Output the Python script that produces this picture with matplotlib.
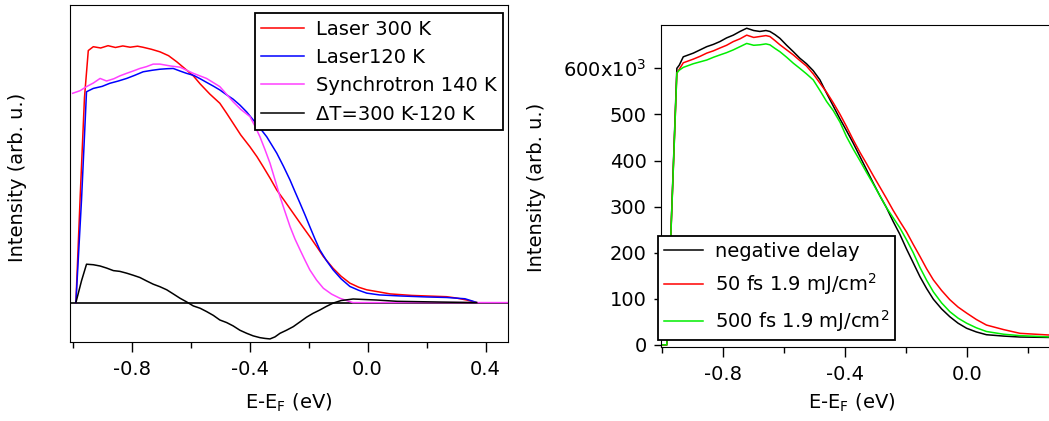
import matplotlib
matplotlib.use('Agg')
import matplotlib.pyplot as plt
from matplotlib.ticker import FixedLocator, FixedFormatter, FormatStrFormatter

plt.rcParams['font.family'] = ['DejaVu Sans']
plt.rcParams['font.size'] = 14
plt.rcParams['axes.unicode_minus'] = False
plt.rcParams['mathtext.fontset'] = 'dejavusans'

# ---------------- left panel: temperature comparison ----------------
red_x = [-0.989, -0.975, -0.960, -0.947, -0.930, -0.905, -0.880, -0.855, -0.830, -0.805,
         -0.780, -0.762, -0.733, -0.704, -0.675, -0.647, -0.614, -0.590, -0.568, -0.535,
         -0.501, -0.478, -0.456, -0.430, -0.399, -0.375, -0.354, -0.330, -0.308, -0.280,
         -0.252, -0.224, -0.196, -0.172, -0.150, -0.117, -0.090, -0.060, -0.030, -0.003,
         0.042, 0.076, 0.150, 0.268, 0.300, 0.336, 0.370]
red_y = [0.0, 0.40, 0.80, 0.985, 1.000, 0.995, 1.004, 0.997, 1.003, 0.998,
         1.002, 0.998, 0.990, 0.980, 0.965, 0.941, 0.909, 0.885, 0.855, 0.815,
         0.779, 0.740, 0.701, 0.655, 0.609, 0.570, 0.531, 0.485, 0.440, 0.395,
         0.349, 0.303, 0.258, 0.218, 0.180, 0.134, 0.103, 0.076, 0.060, 0.050,
         0.041, 0.034, 0.028, 0.023, 0.018, 0.010, 0.0]

blue_x = [-0.989, -0.970, -0.953, -0.930, -0.900, -0.874, -0.845, -0.817, -0.790, -0.761,
          -0.730, -0.704, -0.680, -0.659, -0.636, -0.614, -0.590, -0.568, -0.545, -0.523,
          -0.501, -0.478, -0.456, -0.433, -0.410, -0.388, -0.365, -0.342, -0.325, -0.308,
          -0.285, -0.263, -0.246, -0.229, -0.212, -0.196, -0.179, -0.162, -0.140, -0.117,
          -0.090, -0.060, -0.030, -0.003, 0.040, 0.109, 0.200, 0.268, 0.330, 0.358,
          0.370]
blue_y = [0.0, 0.40, 0.824, 0.837, 0.845, 0.857, 0.866, 0.876, 0.888, 0.902,
          0.908, 0.912, 0.914, 0.915, 0.905, 0.896, 0.888, 0.875, 0.860, 0.846,
          0.831, 0.812, 0.795, 0.772, 0.745, 0.714, 0.682, 0.648, 0.616, 0.584,
          0.532, 0.479, 0.433, 0.388, 0.342, 0.297, 0.250, 0.206, 0.165, 0.128,
          0.093, 0.063, 0.048, 0.037, 0.030, 0.026, 0.022, 0.020, 0.015, 0.005,
          0.0]

syn_x = [-1.000, -0.975, -0.953, -0.930, -0.907, -0.885, -0.860, -0.840, -0.817, -0.795,
         -0.772, -0.750, -0.727, -0.704, -0.670, -0.636, -0.591, -0.546, -0.501, -0.456,
         -0.430, -0.399, -0.382, -0.365, -0.348, -0.331, -0.314, -0.297, -0.280, -0.263,
         -0.246, -0.229, -0.212, -0.196, -0.173, -0.150, -0.122, -0.094, -0.071, -0.050,
         0.476]
syn_y = [0.818, 0.828, 0.844, 0.858, 0.876, 0.866, 0.875, 0.886, 0.896, 0.905,
         0.915, 0.922, 0.932, 0.932, 0.925, 0.920, 0.896, 0.876, 0.844, 0.785,
         0.755, 0.727, 0.690, 0.648, 0.598, 0.545, 0.480, 0.414, 0.355, 0.297,
         0.248, 0.206, 0.165, 0.128, 0.088, 0.056, 0.033, 0.017, 0.008, 0.0,
         0.0]

diff_x = [-0.989, -0.970, -0.953, -0.930, -0.907, -0.885, -0.862, -0.840, -0.817, -0.795,
          -0.772, -0.750, -0.727, -0.704, -0.681, -0.659, -0.636, -0.614, -0.591, -0.568,
          -0.546, -0.523, -0.501, -0.478, -0.456, -0.433, -0.410, -0.388, -0.365, -0.348,
          -0.331, -0.314, -0.297, -0.275, -0.252, -0.230, -0.207, -0.185, -0.162, -0.140,
          -0.117, -0.090, -0.049, 0.031, 0.100, 0.250, 0.370]
diff_y = [0.0, 0.085, 0.150, 0.148, 0.143, 0.135, 0.125, 0.122, 0.115, 0.107,
          0.098, 0.085, 0.072, 0.062, 0.050, 0.034, 0.017, 0.003, -0.013, -0.022,
          -0.035, -0.050, -0.068, -0.078, -0.091, -0.108, -0.120, -0.130, -0.137, -0.140,
          -0.142, -0.134, -0.120, -0.108, -0.094, -0.076, -0.057, -0.042, -0.029, -0.015,
          -0.002, 0.008, 0.014, 0.010, 0.005, 0.002, 0.0]

# ---------------- right panel: pump-probe delay (x10^3) ----------------
delay_x = [-1.005, -0.997, -0.985, -0.952, -0.944, -0.931, -0.898, -0.876, -0.854, -0.832,
           -0.811, -0.789, -0.767, -0.745, -0.723, -0.700, -0.680, -0.660, -0.647, -0.630,
           -0.614, -0.592, -0.570, -0.549, -0.527, -0.505, -0.483, -0.461, -0.439, -0.417,
           -0.396, -0.374, -0.352, -0.330, -0.308, -0.286, -0.265, -0.243, -0.221, -0.199,
           -0.177, -0.155, -0.133, -0.111, -0.084, -0.057, -0.030, -0.002, 0.030, 0.063,
           0.120, 0.173, 0.278]
neg_y = [0, 0, 0, 600, 607, 625, 633, 640, 647, 652,
         658, 666, 672, 680, 687, 682, 680, 682, 680, 673,
         665, 650, 636, 622, 610, 595, 575, 546, 518, 490,
         465, 438, 409, 380, 351, 323, 298, 268, 240, 208,
         178, 148, 122, 99, 78, 61, 47, 36, 28, 22,
         19, 17, 16]
fs50_y = [0, 0, 0, 590, 598, 612, 620, 626, 633, 638,
          644, 650, 658, 664, 672, 667, 669, 671, 669, 660,
          651, 640, 629, 617, 605, 588, 568, 548, 525, 500,
          474, 445, 418, 393, 367, 342, 318, 292, 268, 245,
          218, 192, 165, 141, 118, 98, 82, 69, 55, 43,
          33, 25, 21]
fs500_y = [0, 0, 0, 590, 596, 602, 610, 614, 618, 624,
           629, 634, 640, 647, 654, 650, 651, 653, 651, 643,
           636, 624, 611, 600, 588, 575, 552, 528, 508, 483,
           452, 425, 400, 374, 349, 323, 298, 276, 254, 228,
           200, 168, 140, 115, 91, 72, 58, 47, 37, 29,
           23, 20, 17]

# ---------------- figure ----------------
W, H = 1049, 421
fig = plt.figure(figsize=(W / 100, H / 100), dpi=100)

def box(l, t, r, b):
  return [l / W, 1 - b / H, (r - l) / W, (b - t) / H]

ax1 = fig.add_axes(box(70, 5, 508, 342))
ax1.axhline(0, color='black', linewidth=1.2)
ax1.plot(red_x, red_y, color='#ff0000', linewidth=1.1, label='Laser 300 K')
ax1.plot(blue_x, blue_y, color='#0000ff', linewidth=1.1, label='Laser120 K')
ax1.plot(syn_x, syn_y, color='#ff40ff', linewidth=1.1, label='Synchrotron 140 K')
ax1.plot(diff_x, diff_y, color='black', linewidth=1.1, label='ΔT=300 K-120 K')
ax1.set_xlim(-1.009, 0.476)
ax1.set_ylim(-0.154, 1.163)
ax1.set_yticks([])
ax1.xaxis.set_major_locator(FixedLocator([-0.8, -0.4, 0.0, 0.4]))
ax1.xaxis.set_minor_locator(FixedLocator([-1.0, -0.6, -0.2, 0.2]))
ax1.xaxis.set_major_formatter(FormatStrFormatter('%.1f'))
ax1.tick_params(axis='x', which='major', direction='out', length=7, width=1, pad=6)
ax1.tick_params(axis='x', which='minor', direction='out', length=4, width=1)
ax1.set_xlabel('E-E$_\\mathrm{F}$ (eV)', va='center')
ax1.xaxis.set_label_coords(0.5, (342 - 403) / 337)
ax1.set_ylabel('Intensity (arb. u.)', va='center')
ax1.yaxis.set_label_coords((18 - 70) / 438, (342 - 177) / 337)
leg1 = ax1.legend(loc='upper right', bbox_to_anchor=(503.3 / W, 1 - 12.7 / H),
                  bbox_transform=fig.transFigure, frameon=True, fancybox=False,
                  framealpha=1, edgecolor='black', handlelength=2.2,
                  handletextpad=0.6, labelspacing=0.48, borderpad=0.35, borderaxespad=0)
leg1.get_frame().set_linewidth(1.3)

ax2 = fig.add_axes(box(660.7, 25, 1052, 346.7))
ax2.plot(delay_x, neg_y, color='black', linewidth=1.1, label='negative delay')
ax2.plot(delay_x, fs50_y, color='#ff0000', linewidth=1.1, label='50 fs 1.9 mJ/cm$^2$')
ax2.plot(delay_x, fs500_y, color='#00ee00', linewidth=1.1, label='500 fs 1.9 mJ/cm$^2$')
ax2.set_xlim(-1.005, 0.278)
ax2.set_ylim(-4, 694)
ax2.xaxis.set_major_locator(FixedLocator([-0.8, -0.4, 0.0]))
ax2.xaxis.set_minor_locator(FixedLocator([-1.0, -0.6, -0.2, 0.2]))
ax2.xaxis.set_major_formatter(FormatStrFormatter('%.1f'))
ax2.yaxis.set_major_locator(FixedLocator([0, 100, 200, 300, 400, 500, 600]))
ax2.yaxis.set_major_formatter(FixedFormatter(['0', '100', '200', '300', '400', '500', '600x10$^3$']))
ax2.tick_params(axis='x', which='major', direction='out', length=7, width=1, pad=6)
ax2.tick_params(axis='x', which='minor', direction='out', length=4, width=1)
ax2.tick_params(axis='y', direction='out', length=5, width=1, pad=5)
ax2.set_xlabel('E-E$_\\mathrm{F}$ (eV)', va='center')
ax2.xaxis.set_label_coords((852 - 660.7) / 391.3, (346.7 - 403) / 321.7)
ax2.set_ylabel('Intensity (arb. u.)', va='center')
ax2.yaxis.set_label_coords((536.7 - 660.7) / 391.3, (346.7 - 187) / 321.7)
leg2 = ax2.legend(loc='upper left', bbox_to_anchor=(658.3 / W, 1 - 236 / H),
                  bbox_transform=fig.transFigure, frameon=True, fancybox=False,
                  framealpha=1, edgecolor='black', handlelength=2.0,
                  handletextpad=0.6, labelspacing=0.55, borderpad=0.3, borderaxespad=0)
leg2.get_frame().set_linewidth(1.3)

fig.savefig('out.png', dpi=100)
